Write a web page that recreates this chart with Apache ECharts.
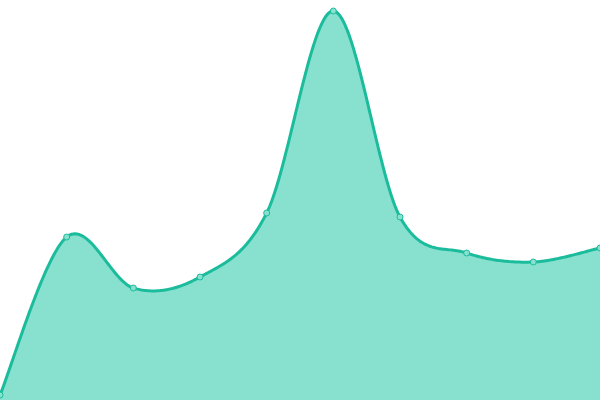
<!DOCTYPE html>
<html>
<head>
<meta charset="utf-8">
<script src="https://cdn.jsdelivr.net/npm/echarts@6/dist/echarts.min.js"></script>
<style>
  html, body { margin: 0; padding: 0; background: #fff; }
  #chart { width: 600px; height: 400px; }
</style>
</head>
<body>
<div id="chart"></div>
<script>
const categories = ['1', '2', '3', '4', '5', '6', '7', '8', '9', '10']
const values = [5, 163, 112, 123, 187, 389, 183, 147, 138, 152]

// catmull-rom through pixel points, ends duplicated
function catmullRom(pts, steps) {
  const out = [pts[0]]
  for (let i = 0; i < pts.length - 1; i++) {
    const p0 = pts[Math.max(i - 1, 0)]
    const p1 = pts[i]
    const p2 = pts[i + 1]
    const p3 = pts[Math.min(i + 2, pts.length - 1)]
    const c1 = [p1[0] + (p2[0] - p0[0]) / 6, p1[1] + (p2[1] - p0[1]) / 6]
    const c2 = [p2[0] - (p3[0] - p1[0]) / 6, p2[1] - (p3[1] - p1[1]) / 6]
    for (let s = 1; s <= steps; s++) {
      const t = s / steps, u = 1 - t
      const a = u * u * u, b = 3 * u * u * t, c = 3 * u * t * t, d = t * t * t
      out.push([
        a * p1[0] + b * c1[0] + c * c2[0] + d * p2[0],
        a * p1[1] + b * c1[1] + c * c2[1] + d * p2[1]
      ])
    }
  }
  return out
}

const chart = echarts.init(document.getElementById('chart'))
chart.setOption({
  animation: false,
  grid: {left: 0, right: 0, top: 0, bottom: 0},
  xAxis: {
    type: 'category',
    data: categories,
    boundaryGap: false,
    show: false
  },
  yAxis: {
    type: 'value',
    min: 0,
    max: 400,
    show: false
  },
  series: [
    {
      type: 'custom',
      data: values.map((v, i) => [i, v]),
      z: 1,
      silent: true,
      renderItem: function(params, api) {
        if (params.dataIndex !== 0) return null
        const pts = values.map((v, i) => api.coord([i, v]))
        const curve = catmullRom(pts, 40)
        const b0 = api.coord([0, 0])
        const b1 = api.coord([values.length - 1, 0])
        return {
          type: 'group',
          children: [
            {type: 'polygon', shape: {points: curve.concat([b1, b0])}, style: {fill: '#88e0cf'}},
            {type: 'polyline', shape: {points: curve}, style: {stroke: '#1abc9c', lineWidth: 3, fill: null}}
          ]
        }
      }
    },
    {
      type: 'line',
      data: values,
      z: 3,
      symbol: 'circle',
      symbolSize: 6,
      lineStyle: {opacity: 0},
      itemStyle: {color: '#88e0cf', borderColor: '#1abc9c', borderWidth: 1}
    }
  ]
})
</script>
</body>
</html>
